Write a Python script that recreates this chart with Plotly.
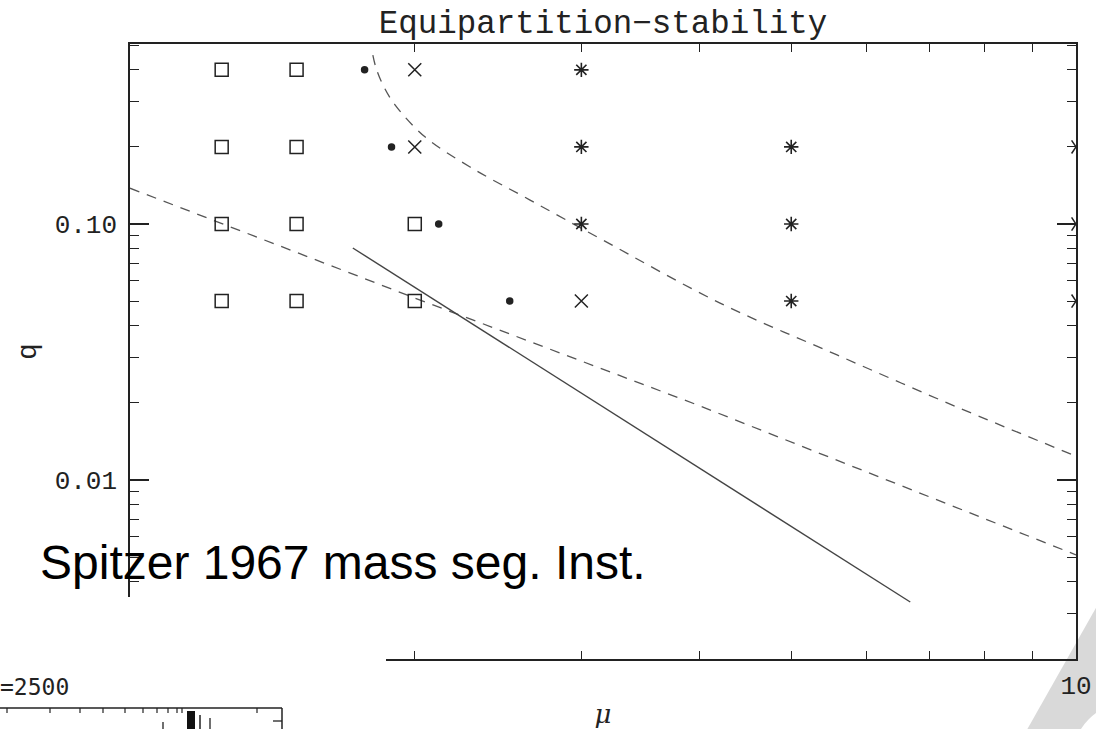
import plotly.graph_objects as go

# ---- simulation grid: mass ratio mu vs. heavy-mass fraction q ----
square_mu = [1.25, 1.25, 1.25, 1.25, 1.5, 1.5, 1.5, 1.5, 2, 2]
square_q = [0.4, 0.2, 0.1, 0.05, 0.4, 0.2, 0.1, 0.05, 0.1, 0.05]

dot_mu = [1.77, 1.89, 2.12, 2.52]
dot_q = [0.4, 0.2, 0.1, 0.05]

cross_mu = [2, 2, 3]
cross_q = [0.4, 0.2, 0.05]

star_mu = [3, 3, 3, 5, 5, 5]
star_q = [0.4, 0.2, 0.1, 0.2, 0.1, 0.05]

arrow_mu = [10, 10, 10]
arrow_q = [0.2, 0.1, 0.05]

# ---- boundary curves ----
upper_mu = [1.806, 1.82, 1.851, 1.906, 2.05, 2.288, 2.648, 3.16, 4.205, 5.59, 7.48, 10]
upper_q = [0.457, 0.407, 0.349, 0.292, 0.219, 0.167, 0.124, 0.0866, 0.0491, 0.0308, 0.0193, 0.0124]

lower_mu = [1, 2, 4, 10]
lower_q = [0.138, 0.0514, 0.0195, 0.0051]

spitzer_mu = [1.72, 6.68]
spitzer_q = [0.0806, 0.00334]

# ---- axis ticks ----
x_major = [10]
x_major_text = ["10"]
x_minor = [2, 3, 4, 5, 6, 7, 8, 9]
y_major = [0.01, 0.1]
y_major_text = ["0.01", "0.10"]
y_minor = [0.002, 0.003, 0.004, 0.005, 0.006, 0.007, 0.008, 0.009,
           0.02, 0.03, 0.04, 0.05, 0.06, 0.07, 0.08, 0.09,
           0.2, 0.3, 0.4, 0.5]

INK = "#222222"
LINE = "#555555"
MONO = "Liberation Mono, Courier New, monospace"

W, H = 1096, 729
ML, MR, MT, MB = 130, 20, 44, 70
PW, PH = W - ML - MR, H - MT - MB


def fx(p):
    """page pixel x -> paper coordinate"""
    return (p - ML) / PW


def fy(p):
    """page pixel y -> paper coordinate"""
    return (H - MB - p) / PH


fig = go.Figure()

# boundary curves
fig.add_trace(go.Scatter(x=upper_mu, y=upper_q, mode="lines", line_shape="spline",
                         line=dict(color=LINE, width=1.3, dash="10px,8px"),
                         showlegend=False, hoverinfo="skip"))
fig.add_trace(go.Scatter(x=lower_mu, y=lower_q, mode="lines",
                         line=dict(color=LINE, width=1.3, dash="10px,8px"),
                         showlegend=False, hoverinfo="skip"))
fig.add_trace(go.Scatter(x=spitzer_mu, y=spitzer_q, mode="lines",
                         line=dict(color="#444444", width=1.4),
                         showlegend=False, hoverinfo="skip"))

# run outcomes
fig.add_trace(go.Scatter(x=square_mu, y=square_q, mode="markers", showlegend=False,
                         marker=dict(symbol="square-open", size=13, color=INK,
                                     line=dict(width=1.5, color=INK))))
fig.add_trace(go.Scatter(x=dot_mu, y=dot_q, mode="markers", showlegend=False,
                         marker=dict(symbol="circle", size=7.5, color=INK)))
fig.add_trace(go.Scatter(x=cross_mu, y=cross_q, mode="markers", showlegend=False,
                         marker=dict(symbol="x-thin-open", size=13, color=INK,
                                     line=dict(width=1.5, color=INK))))
fig.add_trace(go.Scatter(x=star_mu, y=star_q, mode="markers", showlegend=False,
                         marker=dict(symbol="asterisk-open", size=12, color=INK,
                                     line=dict(width=1.6, color=INK))))
fig.add_trace(go.Scatter(x=arrow_mu, y=arrow_q, mode="markers", showlegend=False,
                         cliponaxis=True,
                         marker=dict(symbol="y-right-open", size=11, color=INK,
                                     line=dict(width=1.5, color=INK))))

axis_common = dict(
    type="log", showgrid=False, zeroline=False, showline=True, automargin=False,
    linecolor=INK, linewidth=1.5, mirror="allticks", ticks="inside",
    tickcolor=INK, tickwidth=1.5, tickmode="array",
    tickfont=dict(family=MONO, size=26, color=INK),
)

fig.update_xaxes(**axis_common, range=[0, 1], tickvals=x_major, ticktext=x_major_text,
                 ticklen=10, ticklabelstandoff=2,
                 minor=dict(tickmode="array", tickvals=x_minor, ticks="inside",
                            ticklen=8, tickcolor=INK, tickwidth=1.3),
                 title=dict(text="<i>μ</i>", standoff=16,
                            font=dict(family="DejaVu Serif", size=26, color=INK)))
fig.update_yaxes(**axis_common, range=[-2.699, -0.297], tickvals=y_major,
                 ticktext=y_major_text, ticklen=19, ticklabelstandoff=6,
                 minor=dict(tickmode="array", tickvals=y_minor, ticks="inside",
                            ticklen=9, tickcolor=INK, tickwidth=1.3),
                 title=dict(text="q", standoff=10,
                            font=dict(family=MONO, size=28, color=INK)))

shapes = [
    # slide backdrop wedge in the lower-right corner
    dict(type="path", xref="paper", yref="paper", layer="below",
         path=f"M{fx(1097)},{fy(606)} L{fx(1100)},{fy(735)} L{fx(1024)},{fy(735)} Z",
         fillcolor="#d9d9d9", line=dict(width=0)),
    dict(type="circle", xref="paper", yref="paper", layer="below",
         x0=fx(1072), x1=fx(1188), y0=fy(702), y1=fy(818),
         fillcolor="white", line=dict(width=0)),
    # pasted panel covering the lower-left corner
    dict(type="rect", xref="paper", yref="paper", layer="above",
         x0=fx(-5), x1=fx(386), y0=fy(597), y1=fy(740),
         fillcolor="white", line=dict(width=0)),
    dict(type="line", xref="paper", yref="paper", layer="above",
         x0=fx(0), x1=fx(282), y0=fy(708), y1=fy(708), line=dict(color=INK, width=1.5)),
    dict(type="line", xref="paper", yref="paper", layer="above",
         x0=fx(282), x1=fx(282), y0=fy(708), y1=fy(735), line=dict(color=INK, width=1.5)),
    dict(type="line", xref="paper", yref="paper", layer="above",
         x0=fx(273), x1=fx(282), y0=fy(721), y1=fy(721), line=dict(color=INK, width=1.3)),
    dict(type="rect", xref="paper", yref="paper", layer="above",
         x0=fx(187), x1=fx(195), y0=fy(711), y1=fy(735),
         fillcolor="#111111", line=dict(width=0)),
    dict(type="line", xref="paper", yref="paper", layer="above",
         x0=fx(200), x1=fx(200), y0=fy(715), y1=fy(735), line=dict(color=INK, width=1.5)),
    dict(type="line", xref="paper", yref="paper", layer="above",
         x0=fx(210), x1=fx(210), y0=fy(718), y1=fy(735), line=dict(color=INK, width=1.3)),
    dict(type="line", xref="paper", yref="paper", layer="above",
         x0=fx(163), x1=fx(163), y0=fy(722), y1=fy(735), line=dict(color=INK, width=1.3)),
]
for tx in [7, 50, 80, 103, 125, 143, 157, 168, 177, 182, 257]:
    shapes.append(dict(type="line", xref="paper", yref="paper", layer="above",
                       x0=fx(tx), x1=fx(tx), y0=fy(708), y1=fy(713),
                       line=dict(color=INK, width=1.2)))

annotations = [
    dict(text="Spitzer 1967 mass seg. Inst.", xref="paper", yref="paper",
         x=fx(38), y=fy(562), xanchor="left", yanchor="middle", showarrow=False,
         font=dict(family="Liberation Sans, Arial, sans-serif", size=48, color="black")),
    dict(text="=2500", xref="paper", yref="paper",
         x=fx(-2), y=fy(687), xanchor="left", yanchor="middle", showarrow=False,
         font=dict(family="DejaVu Sans Mono, monospace", size=23, color=INK)),
]

fig.update_layout(
    width=W, height=H, autosize=False,
    margin=dict(l=ML, r=MR, t=MT, b=MB, pad=0),
    paper_bgcolor="white", plot_bgcolor="rgba(0,0,0,0)",
    title=dict(text="Equipartition\u2212stability", x=0.5, xref="paper", xanchor="center",
               y=1 - 22 / H, yref="container", yanchor="middle",
               font=dict(family=MONO, size=32.5, color=INK)),
    shapes=shapes, annotations=annotations, showlegend=False,
)

fig.write_html("out.html")
